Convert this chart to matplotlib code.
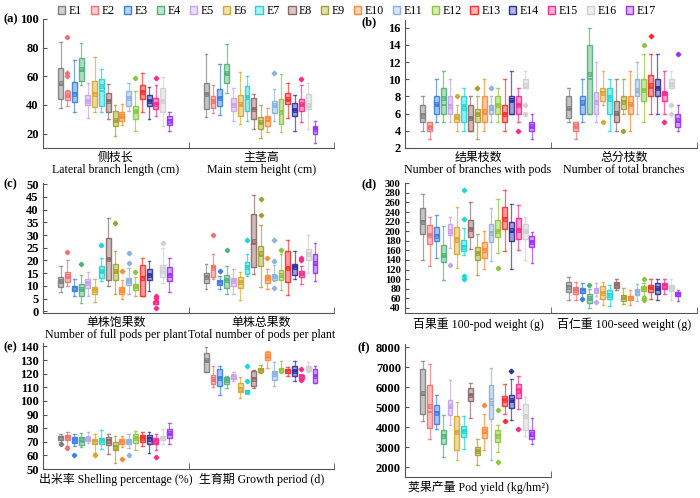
import matplotlib.pyplot as plt
from matplotlib.patches import Patch
from matplotlib.colors import to_rgba
import numpy as np

plt.rcParams['font.family'] = ['Liberation Serif', 'Noto Sans CJK SC']
plt.rcParams['axes.unicode_minus'] = False

names = ['E%d' % (i + 1) for i in range(17)]
colors = ['#808080', '#f07272', '#3d80e2', '#52b27c', '#c8a2ea', '#d8a832', '#1fd6d6',
          '#8e6868', '#a2a230', '#ff8a38', '#8fb2e0', '#8cc63c', '#ff2e2e', '#2f2fa0',
          '#ff2a8c', '#d0d0d0', '#9a32ff']

# each row: whisker low, Q1, median, Q3, whisker high, mean   (E1 .. E17)
lateral = [[38, 44, 54, 65.5, 84, 55], [39, 43.5, 46.5, 49.5, 50.5, 47], [35, 42, 48.5, 56, 71.5, 48],
           [54, 57, 64, 72.5, 83.5, 65], [31, 40, 43, 47, 55, 43], [35, 38.5, 48.5, 57, 73.5, 48],
           [35, 39.5, 50, 58, 65, 53], [30, 35, 43, 48.5, 54.5, 42.5], [18.5, 25.5, 29, 35.5, 40, 29.5],
           [26, 28.5, 31.5, 35, 40.5, 32], [36, 39.5, 45, 50, 55, 45], [22, 30, 35, 39, 50, 35.5],
           [35, 44.5, 49, 54, 62, 49], [30, 39.5, 43, 47, 52.5, 43], [32, 37, 41, 45, 54, 41],
           [25, 35, 43, 52, 59.5, 43], [22, 26, 29.5, 32, 35, 29]]
lateral_out = {1: [87.5, 62, 60.5], 11: [59], 14: [58.5]}

stem = [[31.5, 37, 47.5, 55, 75.5, 47.5], [34.5, 38, 42.5, 46.5, 54, 42.5], [33, 39, 45, 51.5, 68.5, 45],
        [48.5, 55.5, 61.5, 68.5, 82.5, 62], [28.5, 36, 40, 45, 52, 40], [27, 32.5, 40, 47, 63, 41],
        [29, 35.5, 45.5, 53, 60.5, 45.5], [23, 30, 37.5, 45, 47.5, 37.5], [17, 23, 27.5, 31.5, 40, 28],
        [21, 25.5, 29, 32.5, 38, 30], [29, 34.5, 39.5, 43, 51, 40], [21, 27, 36, 44, 61.5, 35],
        [31, 41, 43.5, 48.5, 55, 44], [22, 32, 36.5, 41.5, 47, 36.5], [28, 36, 40, 44, 54, 40.5],
        [23, 37, 38.5, 47.5, 55, 40], [13.5, 20, 23.5, 25.5, 29, 23]]
stem_out = {10: [62], 14: [58]}

pod_branch = [[4, 5, 6, 7, 8, 5.75], [3, 4, 4.5, 5, 5, 4.4], [5, 6, 7, 8, 10, 7.1], [5, 6, 7, 9, 11, 7.8],
              [5, 6, 7, 8, 10, 6.9], [4, 5, 5.5, 6, 7, 5.6], [4, 5, 7, 8, 9, 6.6], [4, 4, 5.5, 7, 8, 5.5],
              [3, 5, 6, 6.5, 8, 5.9], [4, 5, 6, 8, 10, 6.3], [5, 6, 6.5, 7, 8, 6.7], [5, 6, 7, 8, 9, 7],
              [4, 5, 6, 7, 10, 6], [6, 6, 7.5, 8, 11, 7.6], [5, 6, 7, 8, 9, 7], [9, 9, 9, 10, 11, 9.3],
              [3, 4, 4.5, 5, 6, 4.6]]
pod_branch_out = {5: [8], 8: [9], 10: [9], 14: [4], 15: [7, 6]}

total_branch = [[5, 5.5, 6.5, 8, 9, 6.6], [3, 4, 4.5, 5, 5, 4.6], [5, 6, 7, 8, 10, 7.3], [6, 6, 10, 14, 16, 10.6],
                [5, 6, 7.5, 8.5, 12, 7.4], [7, 7.5, 8.5, 9, 11, 8.4], [4, 6, 8, 9, 10, 7.7], [4, 5, 6, 7.5, 10, 6.1],
                [6, 6.5, 7.5, 8, 10, 7.3], [4, 6, 7, 8, 11, 7.1], [6, 8, 8.5, 10, 12, 8.7], [5, 7.5, 8.8, 10, 13, 8.8],
                [6, 8, 9, 10.5, 13, 9.3], [6, 8, 9, 10, 13, 9], [6, 7.5, 8.3, 8.5, 11, 8.4], [9, 9, 9.5, 10, 11, 9.4],
                [4, 4.5, 5, 6, 7, 5.3]]
total_branch_out = {5: [5], 8: [4], 11: [14], 12: [15], 14: [5], 15: [7, 6], 16: [13]}

full_pods = [[7.5, 9.5, 11.7, 13.6, 18, 12], [10, 11.6, 13.4, 15.6, 20, 14], [6, 8.2, 9.5, 10.1, 12.7, 9.4],
             [3.5, 6, 8.5, 10.8, 14.5, 8.7], [6, 9.3, 11, 12.7, 15.6, 11], [3.8, 7, 8.3, 9.5, 12.7, 8.5],
             [12, 13, 15.6, 18, 21, 16], [10, 12.3, 20.5, 29, 36.5, 20.5], [7, 12.3, 15.6, 18.6, 23.6, 15.8],
             [5, 7, 8, 9.5, 12.3, 8.5], [7, 10.4, 12, 13.2, 17, 12], [6, 8.4, 9.7, 10.8, 13.6, 9.8],
             [6, 6, 13.4, 18.2, 20.8, 13], [8.2, 12.3, 14.3, 16.6, 19.7, 14.3], [3, 3, 3.8, 4.3, 4.3, 3.9],
             [11, 13.6, 15, 18.2, 25, 16.5], [7.5, 12, 14.3, 17.3, 20.8, 14.5]]
full_pods_out = {1: [23.2], 3: [18.7], 6: [26], 8: [34.8], 9: [15.8], 10: [23, 19], 11: [15.6],
                 14: [6.2, 5.2, 1.3], 15: [27]}

total_pods = [[9, 11, 13.4, 15, 18.5, 13.5], [12.7, 13.6, 17, 18.2, 22.7, 17], [9, 10.4, 11.5, 12.3, 14, 11.5],
              [7, 9.1, 12.3, 14.2, 18, 12.2], [7, 10, 12, 13, 16.6, 12], [4.5, 9.1, 11.7, 13.4, 15.3, 11.5],
              [14, 14.8, 17.5, 19.5, 22.7, 17.3], [14.7, 17.5, 26.5, 38.3, 45.5, 27.5], [9.5, 18, 21.7, 25.7, 34, 23],
              [9, 11, 13, 14.3, 16.6, 13.2], [12, 12.3, 13.4, 14.5, 18.4, 14], [8.5, 12.3, 14, 16.2, 22.5, 14.5],
              [6.5, 11.7, 17, 23.6, 28, 17], [12.7, 14.5, 17.5, 18.8, 23.6, 17.4], [10.7, 13.6, 14.8, 16, 18, 15],
              [15, 20.1, 22.5, 24.7, 30, 22.7], [12, 15.2, 18.2, 22.7, 27, 19]]
total_pods_out = {1: [30], 2: [16], 3: [24], 6: [28], 8: [38, 44.3], 9: [20.8], 10: [28, 19.7, 9.3],
                  11: [24.3], 14: [21, 20]}

pod_weight = [[140, 195, 221, 248, 278, 219], [128, 173, 193, 213, 230, 192], [145, 179, 192, 208, 234, 191],
              [99, 135, 149, 172, 211, 150], [164, 192, 202, 214, 229, 200], [124, 152, 186, 208, 250, 182],
              [150, 159, 170, 181.5, 206, 167], [162, 187, 204, 223, 260, 204], [108, 140, 155, 167.5, 195, 155],
              [122, 145, 163, 178, 200, 161], [138, 177, 199, 215, 249, 196], [154, 187, 201, 223, 267, 201],
              [158, 204, 228, 251, 285, 226], [122, 180, 199, 220, 257, 202], [160, 184, 202, 227, 255, 203],
              [141, 183, 197.5, 214, 230, 201], [134, 168, 177, 190.5, 199, 177]]
pod_weight_out = {4: [130], 6: [286, 225, 106, 100.5], 11: [124]}

seed_weight = [[56, 73.5, 85, 94.5, 105, 84], [56, 70, 77, 84, 94, 77], [60, 71.5, 77, 82, 91, 76],
               [40, 50.5, 59.5, 70, 80, 60], [64.5, 72, 78, 82.5, 92, 78], [47, 59.5, 71, 85, 94.5, 71],
               [43.5, 59.5, 68.5, 77, 87.5, 67], [78, 82.5, 88.5, 94.5, 101, 88], [49, 54.6, 61.6, 68, 82.5, 62],
               [47, 56, 61.6, 65.8, 77, 61], [54, 66.5, 73.5, 80.5, 89.5, 74], [64.5, 75, 80, 85, 91, 80],
               [59.5, 73.5, 82, 87.5, 100, 83], [56, 70, 80, 92, 101, 82], [68.6, 80.4, 87, 92.3, 101, 86],
               [57.5, 75, 82.5, 88.8, 101, 82], [54, 65, 70, 73.5, 78, 69]]
seed_weight_out = {2: [58], 3: [87.5], 4: [52.5], 11: [101, 61, 57]}

shelling = [[70, 71.5, 73.5, 74.5, 75.5, 73], [67, 71, 73.5, 75.2, 77.5, 73.5], [67, 69, 71.5, 73.2, 75.5, 71],
            [66, 67.4, 70.5, 73.2, 76.5, 71], [69, 70.3, 72.3, 73.5, 77, 72.5], [62, 68, 70.3, 72, 75.7, 70],
            [65, 68.6, 71, 72.7, 78.5, 71], [61, 67.4, 71, 73.5, 76, 70.5], [54.5, 63.7, 66.6, 69.8, 74.5, 66.5],
            [66.5, 68.6, 70.3, 72, 74.5, 70.5], [65.5, 68, 69.6, 72, 75.7, 70], [64, 69, 72.7, 76, 78, 72.5],
            [66.6, 69.6, 72.7, 75.2, 77, 72.5], [62, 68.6, 72.7, 75.2, 77, 72], [63.7, 68, 70.3, 72.7, 76, 70.5],
            [68, 71, 72.7, 74.5, 79.5, 73], [68, 72.7, 75.5, 79.3, 84, 76.5]]
shelling_out = {0: [68.3], 1: [65.5], 2: [60], 5: [60.5], 9: [57], 10: [60.5], 14: [59]}

growth = [[121.5, 121.5, 129, 135.5, 139.5, 130], [110, 112.6, 115.5, 118.7, 125.3, 116],
          [104.5, 110.6, 116.8, 123.4, 125.3, 117], [109.5, 112.6, 115.5, 117.5, 118.5, 115],
          [114.3, 116, 118, 119.2, 121, 118], [102, 106.2, 109.4, 113.1, 117.5, 109],
          [105.8, 105.8, 106.7, 107.7, 107.7, 106.8], [109.5, 110.6, 116.8, 121.7, 122.4, 116],
          [120.4, 121, 122.5, 124, 126, 123], [124, 129.7, 132.2, 135.6, 136.3, 133],
          [110.6, 115, 119.7, 121.7, 128.3, 120], [120.4, 121, 122.5, 124, 129, 122.5],
          [118.5, 120.4, 122.5, 123.6, 124.6, 122], [114.8, 118, 122, 125.8, 129, 122],
          [116.3, 116.3, 118, 118.7, 118.7, 118.5], [121, 122.1, 124.1, 125.3, 128.3, 124.5],
          [113, 113.1, 118, 123.4, 125.3, 118.5]]
growth_out = {6: [125.3, 114.8], 14: [123.5, 115]}

pod_yield = [[4300, 4667, 5600, 6917, 7300, 5700], [3380, 3950, 4730, 6120, 7130, 5030],
             [3920, 4170, 4750, 5120, 5580, 4700], [2500, 3170, 3600, 3870, 4600, 3530],
             [4120, 4600, 4980, 5370, 6370, 5050], [2370, 2870, 3750, 4530, 5250, 3750],
             [2920, 3500, 3800, 4050, 4530, 3800], [4470, 5300, 5600, 5950, 6220, 5620],
             [2080, 2600, 2800, 3000, 3380, 2780], [2830, 3470, 3700, 4020, 4670, 3800],
             [2370, 4420, 5420, 6080, 6970, 5200], [2750, 3250, 3600, 3830, 4100, 3550],
             [4670, 5030, 5330, 5550, 6130, 5330], [4330, 4950, 5300, 5620, 6420, 5350],
             [4880, 5470, 5900, 6170, 6530, 5800], [3530, 3870, 4570, 5170, 5500, 4550],
             [3170, 3420, 3530, 3870, 4470, 3650]]
pod_yield_out = {9: [5100], 11: [4850, 2250], 12: [4300], 13: [6780], 14: [3880]}

W = 21.4  # width of one trait group in x units


def draw_group(ax, g, stats, outs):
    bstats = []
    for i, (lo, q1, med, q3, hi, mn) in enumerate(stats):
        bstats.append(dict(whislo=lo, q1=q1, med=med, q3=q3, whishi=hi, mean=mn,
                           fliers=outs.get(i, [])))
    pos = g * W + 2.6 + np.arange(17)
    art = ax.bxp(bstats, positions=pos, widths=0.72, patch_artist=True, showmeans=True,
                 manage_ticks=False, capwidths=0.38)
    for i, c in enumerate(colors):
        art['boxes'][i].set_facecolor(to_rgba(c, 0.45))
        art['boxes'][i].set_edgecolor(to_rgba(c, 0.9))
        art['boxes'][i].set_linewidth(1.0)
        art['medians'][i].set_color(c)
        art['medians'][i].set_linewidth(1.2)
        for k in (2 * i, 2 * i + 1):
            art['whiskers'][k].set_color(to_rgba(c, 0.7))
            art['whiskers'][k].set_linewidth(0.9)
            art['caps'][k].set_color(to_rgba(c, 0.7))
            art['caps'][k].set_linewidth(1.0)
        m = art['means'][i]
        m.set_marker('s')
        m.set_markersize(2.8)
        m.set_markerfacecolor(to_rgba(c, 0.6))
        m.set_markeredgecolor(c)
        m.set_markeredgewidth(0.6)
        f = art['fliers'][i]
        f.set_marker('D')
        f.set_markersize(2.3)
        f.set_markerfacecolor(c)
        f.set_markeredgecolor(c)


def setup(ax, ngroups, ylim, yticks, labels, ysize=9):
    ax.set_xlim(0, ngroups * W)
    ax.set_ylim(*ylim)
    ax.set_yticks(yticks)
    ax.spines['top'].set_visible(False)
    ax.spines['right'].set_visible(False)
    ax.spines['left'].set_color('#555555')
    ax.spines['bottom'].set_color('#555555')
    ax.tick_params(axis='y', direction='in', length=3, color='#555555', labelsize=ysize, pad=3)
    for t in ax.get_yticklabels():
        t.set_fontweight('bold')
    ax.set_xticks([W * (g + 0.5) for g in range(ngroups)])
    ax.set_xticklabels(labels, fontsize=8.6, linespacing=0.95)
    ax.tick_params(axis='x', which='major', length=0, pad=3)
    ax.set_xticks([W * g for g in range(ngroups + 1)], minor=True)
    ax.tick_params(axis='x', which='minor', direction='in', length=4, color='#555555')


fig = plt.figure(figsize=(7, 4.98), dpi=100)


def rect(x0, y0, x1, y1):
    return [x0 / 700, 1 - y1 / 498, (x1 - x0) / 700, (y1 - y0) / 498]


def letter(x, y, s):
    fig.text(x / 700, 1 - y / 498, s, fontsize=9, fontweight='bold', va='center', ha='left')


ax_a = fig.add_axes(rect(43, 19, 334, 148))
draw_group(ax_a, 0, lateral, lateral_out)
draw_group(ax_a, 1, stem, stem_out)
setup(ax_a, 2, (10, 100), [20, 40, 60, 80, 100],
      ['侧枝长\nLateral branch length (cm)', '主茎高\nMain stem height (cm)'])
letter(4, 19, '(a)')

ax_b = fig.add_axes(rect(405, 20, 697, 148))
draw_group(ax_b, 0, pod_branch, pod_branch_out)
draw_group(ax_b, 1, total_branch, total_branch_out)
setup(ax_b, 2, (2, 16.9), np.arange(2, 17, 2),
      ['结果枝数\nNumber of branches with pods', '总分枝数\nNumber of total branches'])
letter(361, 22, '(b)')

ax_c = fig.add_axes(rect(43, 183, 334, 313))
draw_group(ax_c, 0, full_pods, full_pods_out)
draw_group(ax_c, 1, total_pods, total_pods_out)
setup(ax_c, 2, (-0.6, 50.4), np.arange(0, 51, 5),
      ['单株饱果数\nNumber of full pods per plant', '单株总果数\nTotal number of pods per plant'])
letter(4, 184, '(c)')

ax_d = fig.add_axes(rect(405, 183, 697, 313))
draw_group(ax_d, 0, pod_weight, pod_weight_out)
draw_group(ax_d, 1, seed_weight, seed_weight_out)
setup(ax_d, 2, (29.5, 300.5), np.arange(40, 301, 20),
      ['百果重 100-pod weight (g)', '百仁重 100-seed weight (g)'], ysize=7.6)
letter(361, 184, '(d)')

ax_e = fig.add_axes(rect(43, 343, 334, 469))
draw_group(ax_e, 0, shelling, shelling_out)
draw_group(ax_e, 1, growth, growth_out)
setup(ax_e, 2, (50, 142.5), np.arange(50, 141, 10),
      ['出米率 Shelling percentage (%)', '生育期 Growth period (d)'])
letter(4, 347, '(e)')

ax_f = fig.add_axes(rect(405, 344, 551, 477))
draw_group(ax_f, 0, pod_yield, pod_yield_out)
setup(ax_f, 1, (1500, 8150), np.arange(2000, 8001, 1000),
      ['荚果产量 Pod yield (kg/hm²)'])
letter(358, 347, '(f)')

handles = [Patch(facecolor=to_rgba(c, 0.35), edgecolor=c, linewidth=1.0) for c in colors]
fig.legend(handles, names, loc='center', bbox_to_anchor=(0.51, 0.977), ncol=17, frameon=False,
           fontsize=8.6, handlelength=0.6, handleheight=0.6, handletextpad=0.3,
           columnspacing=0.75, borderaxespad=0, borderpad=0)

fig.savefig('out.png', dpi=100)
